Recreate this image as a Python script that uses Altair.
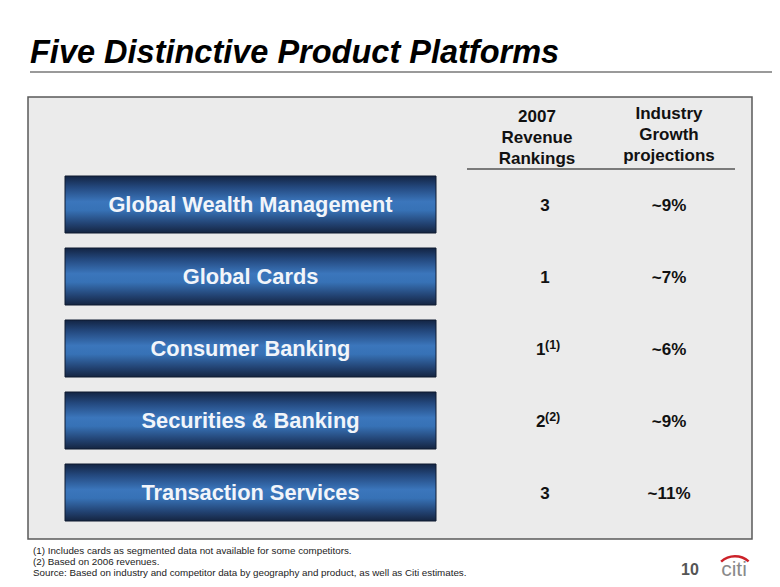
import altair as alt
import pandas as pd

# ---- data ----
title_text = "Five Distinctive Product Platforms"
platforms = ["Global Wealth Management", "Global Cards", "Consumer Banking",
             "Securities & Banking", "Transaction Services"]
rankings = ["3", "1", "1", "2", "3"]
ranking_notes = ["", "", "(1)", "(2)", ""]
growth = ["~9%", "~7%", "~6%", "~9%", "~11%"]
header_rank = ["2007", "Revenue", "Rankings"]
header_growth = ["Industry", "Growth", "projections"]
footnotes = [
    "(1) Includes cards as segmented data not available for some competitors.",
    "(2) Based on 2006 revenues.",
    "Source: Based on industry and competitor data by geography and product, as well as Citi estimates.",
]
page_number = "10"
logo_text = "citi"

OFF = 8  # page margin


def px(v):
    return v - OFF


FONT = "Liberation Sans"
W, H = 764, 571

df = pd.DataFrame({"platform": platforms, "rank": rankings,
                   "note": ranking_notes, "growth": growth})
one = alt.Data(values=[{"k": 0}])

yband = alt.Y("platform:N",
              scale=alt.Scale(domain=platforms, range=[px(176), px(521)],
                              paddingInner=15 / 72, paddingOuter=0),
              axis=None)

layers = []

# title
layers.append(alt.Chart(one).mark_text(
    text=title_text, font=FONT, fontSize=32.5, fontWeight="bold", fontStyle="italic",
    align="left", baseline="alphabetic", color="#000000"
).encode(x=alt.value(px(30)), y=alt.value(px(63))))

# title underline
layers.append(alt.Chart(one).mark_rule(color="#9a9a9a", strokeWidth=2).encode(
    x=alt.value(px(30)), x2=alt.value(px(777)), y=alt.value(px(72))))

# panel
layers.append(alt.Chart(one).mark_rect(fill="#ebebeb", stroke="#5a5a5a", strokeWidth=1.5).encode(
    x=alt.value(px(28)), x2=alt.value(px(752)), y=alt.value(px(97)), y2=alt.value(px(539))))

# headers
for i, t in enumerate(header_rank):
    layers.append(alt.Chart(one).mark_text(
        text=t, font=FONT, fontSize=17, fontWeight="bold", align="center",
        baseline="alphabetic", color="#111111"
    ).encode(x=alt.value(px(537)), y=alt.value(px(122 + 21 * i))))
for i, t in enumerate(header_growth):
    layers.append(alt.Chart(one).mark_text(
        text=t, font=FONT, fontSize=17, fontWeight="bold", align="center",
        baseline="alphabetic", color="#111111"
    ).encode(x=alt.value(px(669)), y=alt.value(px(119 + 21 * i))))

# header rule
layers.append(alt.Chart(one).mark_rule(color="#555555", strokeWidth=1.5).encode(
    x=alt.value(px(467)), x2=alt.value(px(735)), y=alt.value(px(169))))

base = alt.Chart(df)

grad = {"gradient": "linear", "x1": 0, "y1": 0, "x2": 0, "y2": 1,
        "stops": [{"offset": 0, "color": "#132443"},
                  {"offset": 0.2, "color": "#24497f"},
                  {"offset": 0.45, "color": "#3b76bc"},
                  {"offset": 0.6, "color": "#3772b6"},
                  {"offset": 0.85, "color": "#21406e"},
                  {"offset": 1, "color": "#152541"}]}

# buttons
layers.append(base.mark_rect(color=grad, stroke="#0e1a30", strokeWidth=1).encode(
    y=yband, x=alt.value(px(65)), x2=alt.value(px(436))))
layers.append(base.mark_text(font=FONT, fontSize=21.8, fontWeight="bold", color="#f2f5fa",
                             align="center", baseline="middle", dy=0).encode(
    y=yband, x=alt.value(px(250.5)), text="platform:N"))

# rankings without notes
layers.append(base.transform_filter("datum.note == ''").mark_text(
    font=FONT, fontSize=17, fontWeight="bold", color="#111111", align="center",
    baseline="middle", dy=1).encode(y=yband, x=alt.value(px(545)), text="rank:N"))
# rankings with notes
layers.append(base.transform_filter("datum.note != ''").mark_text(
    font=FONT, fontSize=17, fontWeight="bold", color="#111111", align="right",
    baseline="middle", dy=1).encode(y=yband, x=alt.value(px(545.5)), text="rank:N"))
layers.append(base.transform_filter("datum.note != ''").mark_text(
    font=FONT, fontSize=12.5, fontWeight="bold", color="#111111", align="left",
    baseline="middle", dy=-4).encode(y=yband, x=alt.value(px(545)), text="note:N"))

# growth
layers.append(base.mark_text(font=FONT, fontSize=17, fontWeight="bold", color="#111111",
                             align="center", baseline="middle", dy=1).encode(
    y=yband, x=alt.value(px(669)), text="growth:N"))

# footnotes
for i, t in enumerate(footnotes):
    layers.append(alt.Chart(one).mark_text(
        text=t, font=FONT, fontSize=9.8, align="left", baseline="alphabetic",
        color="#222222").encode(x=alt.value(px(33)), y=alt.value(px(554 + 11 * i))))

# page number
layers.append(alt.Chart(one).mark_text(
    text=page_number, font=FONT, fontSize=16, fontWeight="bold", align="center",
    baseline="alphabetic", color="#555555").encode(x=alt.value(px(690)), y=alt.value(px(575))))

# logo
layers.append(alt.Chart(one).mark_text(
    text=logo_text, font=FONT, fontSize=21, align="center", baseline="alphabetic",
    color="#8a8a8a").encode(x=alt.value(px(734)), y=alt.value(px(576))))
layers.append(alt.Chart(one).mark_arc(color="#cc2229").encode(
    x=alt.value(px(735)), y=alt.value(px(577)),
    theta=alt.value(5.55), theta2=alt.value(7.0),
    radius=alt.value(22), radius2=alt.value(19.5)))

chart = alt.layer(*layers).properties(
    width=W, height=H, background="#ffffff", padding=0,
    autosize=alt.AutoSizeParams(type="none")
).configure_view(stroke=None)

chart.save("out.html", embed_options={"renderer": "svg", "actions": False})
